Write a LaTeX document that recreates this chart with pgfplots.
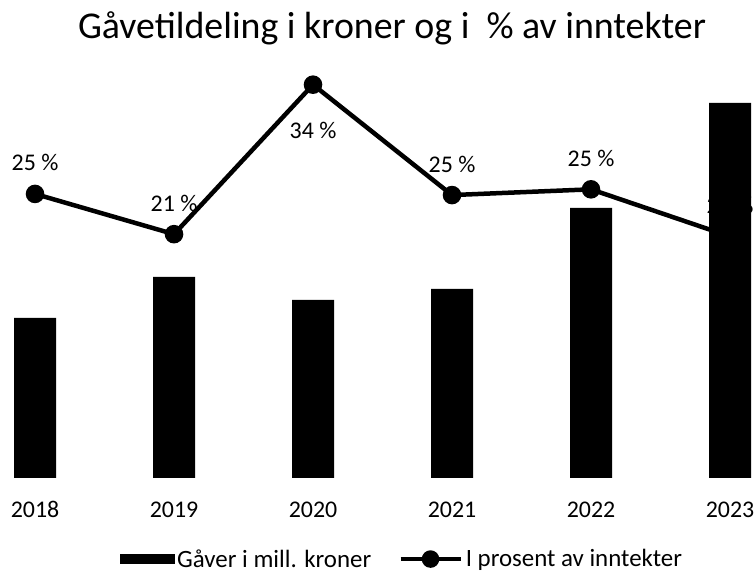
\documentclass[border=0pt]{standalone}
\usepackage{pgfplots}
\pgfplotsset{compat=1.18}
\usepackage{fontspec}
\setmainfont{Carlito}
\begin{document}
\begin{tikzpicture}[x=1bp,y=1bp]
\path[use as bounding box] (0,0) rectangle (755,576);
\node[font=\fontsize{38}{45}\selectfont, anchor=base] at (392,537) {Gåvetildeling i kroner og i\ \ \% av inntekter};
\begin{axis}[name=ax1, at={(0,98)}, anchor=south west, scale only axis,
  width=755bp, height=420bp,
  xmin=-0.252, xmax=5.180, ymin=0, ymax=420,
  hide y axis, axis x line*=bottom, x axis line style={draw=none},
  xtick={0,1,2,3,4,5}, xticklabels={2018,2019,2020,2021,2022,2023},
  major tick length=0pt,
  xticklabel style={font=\fontsize{24}{28}\selectfont, anchor=north, inner sep=0pt,
    text height=15bp, text depth=0bp, yshift=-24bp},
  clip=false]
\addplot[ybar, bar width=42bp, fill=black, draw=none]
  coordinates {(0,160) (1,201) (2,178) (3,189) (4,270) (5,375)};
\end{axis}
\begin{axis}[at={(ax1.south west)}, anchor=south west, scale only axis,
  width=755bp, height=420bp,
  xmin=-0.252, xmax=5.180, ymin=0, ymax=36.52,
  hide x axis, hide y axis, clip=false,
  legend style={at={(0.533,-0.193)}, anchor=center, draw=none, fill=none,
    legend columns=2, font=\fontsize{25}{29}\selectfont,
    nodes={inner xsep=3bp},
    /tikz/every even column/.append style={column sep=24bp}},
  legend cell align=left]
\addlegendimage{legend image code/.code={\fill[black] (0bp,-4.5bp) rectangle (54bp,4.5bp);}}
\addlegendentry{Gåver i mill. kroner}
\addplot[black, line width=4.5bp, mark=*, mark size=7bp,
  nodes near coords, point meta=explicit symbolic,
  nodes near coords style={font=\fontsize{24}{28}\selectfont, anchor=center, yshift=31bp, text=black},
  legend image code/.code={\draw[line width=4.5bp] (0bp,0bp) -- (60bp,0bp); \fill (30bp,0bp) circle (6.5bp);}]
  coordinates {(0,24.7) [25 \%] (1,21.2) [21 \%] (2,34.2) [{}] (3,24.6) [25 \%] (4,25.1) [25 \%] (5,21.0) [21 \%]};
\addlegendentry{I prosent av inntekter}
\addplot[draw=none, mark=none, forget plot,
  nodes near coords, point meta=explicit symbolic,
  nodes near coords style={font=\fontsize{24}{28}\selectfont, anchor=center, yshift=-46bp, text=black}]
  coordinates {(2,34.2) [34 \%]};
\end{axis}
\end{tikzpicture}
\end{document}
